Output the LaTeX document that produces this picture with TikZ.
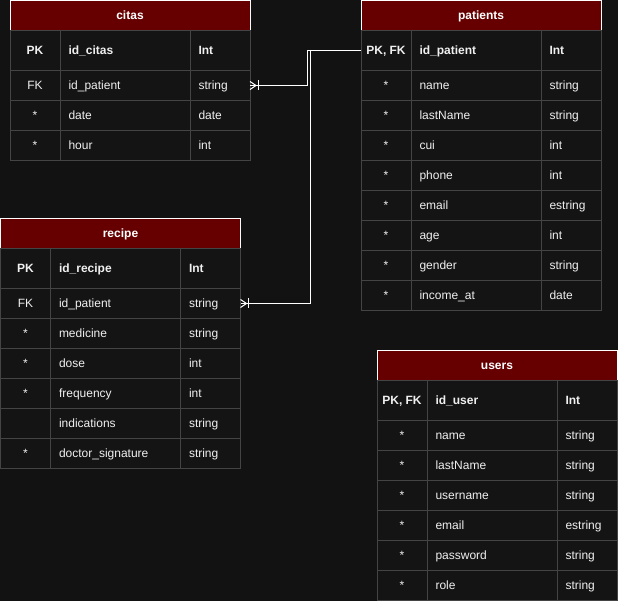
\documentclass[tikz,border=0pt]{standalone}
\usepackage{fontspec}
\setmainfont{Liberation Sans}
\definecolor{bg}{RGB}{18,18,18}
\definecolor{body}{RGB}{20,20,20}
\definecolor{gridc}{RGB}{68,68,68}
\definecolor{hdr}{RGB}{102,0,0}
\definecolor{txt}{RGB}{240,240,240}
\tikzset{
  normfont/.style={font=\fontsize{12pt}{14pt}\selectfont},
  boldfont/.style={font=\fontsize{12pt}{14pt}\selectfont\bfseries},
  hdrbox/.style={draw=white, fill=hdr, minimum width=240pt, minimum height=30pt, inner sep=0pt, outer sep=0pt, anchor=north west, boldfont, text=white, text height=8.6pt, text depth=0pt},
  rowbox/.style={draw=gridc, fill=body, minimum width=240pt, inner sep=0pt, outer sep=0pt, anchor=north west},
  keytxt/.style={text=txt, inner sep=0pt, text height=8.6pt, text depth=0pt},
  nametxt/.style={text=txt, anchor=west, inner sep=0pt, text height=8.6pt, text depth=0pt},
  colline/.style={draw=gridc, line width=1pt},
  rel/.style={draw=white, line width=1pt},
}
% #1 name, #2 x, #3 y, #4 title, #5 pk key, #6 pk name, #7 pk type, #8 rows
\newcommand\ertable[8]{%
  \node[hdrbox] (#1) at (#2,-#3) {#4};
  \node[rowbox, minimum height=40pt] (#1-0) at (#1.south west) {};
  \node[keytxt, boldfont] (#1-0-k) at ([xshift=25pt]#1-0.west) {#5};
  \node[nametxt, boldfont] (#1-0-n) at ([xshift=58pt]#1-0.west) {#6};
  \node[nametxt, boldfont] (#1-0-t) at ([xshift=188pt]#1-0.west) {#7};
  \draw[colline] ([xshift=50pt]#1-0.north west) -- ([xshift=50pt]#1-0.south west);
  \draw[colline] ([xshift=180pt]#1-0.north west) -- ([xshift=180pt]#1-0.south west);
  \foreach \ka/\na/\ty [count=\ii] in {#8} {
    \pgfmathtruncatemacro\pprev{\ii-1}
    \node[rowbox, minimum height=30pt] (#1-\ii) at (#1-\pprev.south west) {};
    \node[keytxt, normfont] (#1-\ii-k) at ([xshift=25pt]#1-\ii.west) {\ka};
    \node[nametxt, normfont] (#1-\ii-n) at ([xshift=58pt]#1-\ii.west) {\na};
    \node[nametxt, normfont] (#1-\ii-t) at ([xshift=188pt]#1-\ii.west) {\ty};
    \draw[colline] ([xshift=50pt]#1-\ii.north west) -- ([xshift=50pt]#1-\ii.south west);
    \draw[colline] ([xshift=180pt]#1-\ii.north west) -- ([xshift=180pt]#1-\ii.south west);
  }
}
\begin{document}
\begin{tikzpicture}[x=1pt,y=1pt,line width=1pt]
\fill[bg] (0,0) rectangle (618,-601);
\useasboundingbox (0,0) rectangle (618,-601);

\ertable{citas}{10}{0.5}{citas}{PK}{id\_citas}{Int}{FK/id\_patient/string, */date/date, */hour/int}
\ertable{patients}{361}{0.5}{patients}{PK, FK}{id\_patient}{Int}{*/name/string, */lastName/string, */cui/int, */phone/int, */email/estring, */age/int, */gender/string, */income\_at/date}
\ertable{recipe}{0.5}{218.5}{recipe}{PK}{id\_recipe}{Int}{FK/id\_patient/string, */medicine/string, */dose/int, */frequency/int, /indications/string, */doctor\_signature/string}
\ertable{users}{377}{350}{users}{PK, FK}{id\_user}{Int}{*/name/string, */lastName/string, */username/string, */email/estring, */password/string, */role/string}

% relationships
\draw[rel] (patients-0.west) -- ++(-54pt,0) |- (citas-1.east);
\draw[rel] ([yshift=4pt]citas-1.east) -- ([xshift=6pt]citas-1.east) -- ([yshift=-4pt]citas-1.east);
\draw[rel] ([xshift=8pt,yshift=5pt]citas-1.east) -- ([xshift=8pt,yshift=-5pt]citas-1.east);

\draw[rel] (patients-0.west) -- ++(-51pt,0) |- (recipe-1.east);
\draw[rel] ([yshift=4pt]recipe-1.east) -- ([xshift=6pt]recipe-1.east) -- ([yshift=-4pt]recipe-1.east);
\draw[rel] ([xshift=8pt,yshift=5pt]recipe-1.east) -- ([xshift=8pt,yshift=-5pt]recipe-1.east);
\end{tikzpicture}
\end{document}
